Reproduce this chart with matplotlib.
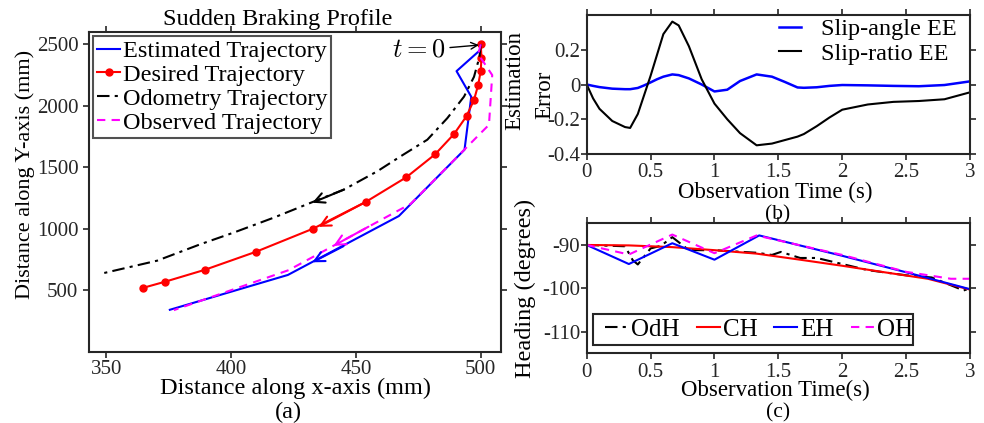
import numpy as np
import matplotlib
matplotlib.use("Agg")
import matplotlib.pyplot as plt
from matplotlib.patches import Rectangle

plt.rcParams['font.family'] = ['Liberation Serif', 'DejaVu Serif']
plt.rcParams['mathtext.fontset'] = 'cm'
plt.rcParams['axes.unicode_minus'] = False

# ---- (a) trajectories (mm) ----
desired_x = [500, 500.3, 500, 499, 497.3, 494.3, 489.3, 481.7, 470.2, 453.9, 432.9, 410, 389.3, 373.3, 364.8]
desired_y = [2500, 2392, 2285, 2172, 2048, 1916, 1771, 1606, 1420, 1219, 1003, 815, 667, 570, 522]

odom_x = [500, 499.5, 497.3, 493.3, 486.6, 478.6, 467.9, 458.6, 445.2, 431.8, 417.1, 401.1, 387.7, 370.3, 347.6]
odom_y = [2500, 2398, 2236, 2075, 1900, 1725, 1590, 1469, 1320, 1212, 1092, 971, 876, 742, 635]

est_x = [500, 499.7, 490.3, 496.2, 493.5, 467.2, 422.7, 375.4]
est_y = [2500, 2452, 2282, 2074, 1644, 1105, 626, 343]

obs_x = [500, 499, 504.6, 503.3, 500, 472, 423, 390, 377]
obs_y = [2500, 2420, 2250, 1846, 1779, 1205, 665, 432, 340]

# direction arrows: tip and a point behind it on the same path
arrow_tips = {'k': (432.5, 1213), 'r': (435, 1017), 'm': (441, 863), 'b': (432.5, 729)}
arrow_tails = {'k': (445.2, 1320), 'r': (453.9, 1219), 'm': (455, 1018), 'b': (445, 860)}

# ---- (b) estimation error ----
t_b = [0, 0.05, 0.1, 0.2, 0.3, 0.34, 0.4, 0.45, 0.5, 0.55, 0.6, 0.67, 0.72, 0.8, 0.9,
       1.0, 1.1, 1.2, 1.33, 1.45, 1.55, 1.65, 1.7, 1.8, 1.9, 2.0, 2.2, 2.4, 2.6, 2.8, 3.0]
slip_angle = [0, -0.008, -0.015, -0.024, -0.027, -0.027, -0.02, -0.005, 0.012, 0.03, 0.045, 0.058, 0.054, 0.035, 0.0,
              -0.04, -0.03, 0.02, 0.058, 0.045, 0.015, -0.017, -0.019, -0.016, -0.008, -0.003, -0.005, -0.008, -0.01, -0.003, 0.018]
slip_ratio = [0, -0.08, -0.14, -0.21, -0.245, -0.25, -0.17, -0.06, 0.05, 0.17, 0.29, 0.362, 0.34, 0.22, 0.03,
              -0.11, -0.2, -0.28, -0.35, -0.34, -0.32, -0.3, -0.285, -0.24, -0.19, -0.145, -0.115, -0.1, -0.095, -0.085, -0.045]

# ---- (c) heading (degrees) ----
t_ch = [0, 0.33, 0.67, 1.0, 1.33, 1.67, 2.0, 2.33, 2.67, 3.0]
ch = [-90, -90.1, -90.5, -91.2, -92, -93.4, -94.8, -96.3, -97.8, -100.3]

t_eh = [0, 0.33, 0.67, 1.0, 1.35, 2.0, 2.5, 3.0]
eh = [-90, -94.4, -89.6, -93.4, -87.8, -92.5, -96.3, -100.2]

t_oh = [0, 0.33, 0.67, 1.0, 1.33, 2.0, 2.5, 2.85, 3.0]
oh = [-90, -92.2, -87.6, -91.9, -87.8, -92.3, -96.2, -97.8, -97.8]

t_odh = [0, 0.3, 0.36, 0.4, 0.5, 0.58, 0.67, 0.8, 1.0, 1.33, 1.45, 1.52, 1.67, 1.8, 2.0, 2.2, 2.5, 2.7, 2.95, 3.0]
odh = [-90, -90.3, -93.5, -94.5, -90.8, -90.2, -88.2, -91.2, -91.2, -91.8, -92.3, -91.6, -93.0, -93.0, -94.4, -95.8, -97.0, -97.5, -100.5, -100.0]

time_ticks = [0, 0.5, 1, 1.5, 2, 2.5, 3]
time_labels = ['0', '0.5', '1', '1.5', '2', '2.5', '3']

axc = '#262626'
mag = '#ff00ff'
lw = 1.5
W, H = 984, 423


def style(ax, xpad, ypad):
    for s in ax.spines.values():
        s.set_color(axc)
        s.set_linewidth(1.5)
    ax.tick_params(direction='out', length=4.2, width=1.2, colors=axc, labelsize=15,
                   top=True, right=True)
    ax.tick_params(axis='x', pad=xpad)
    ax.tick_params(axis='y', pad=ypad)


def ftext(px, py, s, **kw):
    # label placed by pixel position in the figure
    fig.text(px / W, 1 - py / H, s, ha='center', va='center', **kw)


fig = plt.figure(figsize=(W / 100, H / 100), dpi=100)

# (a)
ax1 = fig.add_axes([89 / W, 1 - 352 / H, 411.7 / W, 320 / H])
ax1.plot(est_x, est_y, color='b', lw=lw, label='Estimated Trajectory')
ax1.plot(desired_x, desired_y, color='r', lw=lw, marker='o', markersize=5, label='Desired Trajectory')
ax1.plot(odom_x, odom_y, color='k', lw=lw, ls=(0, (6, 2.5, 1.5, 2.5)), label='Odometry Trajectory')
ax1.plot(obs_x, obs_y, color=mag, lw=lw, ls=(0, (4, 3)), label='Observed Trajectory')
cmap = {'k': 'k', 'r': 'r', 'm': mag, 'b': 'b'}
for key, tip in arrow_tips.items():
    ax1.annotate('', xy=tip, xytext=arrow_tails[key],
                 arrowprops=dict(arrowstyle='->', color=cmap[key], lw=lw,
                                 mutation_scale=18, shrinkA=0, shrinkB=0))
ax1.annotate('$t=0$', xy=(499.3, 2494), xytext=(486, 2452), fontsize=19, ha='right', va='center',
             arrowprops=dict(arrowstyle='->', color='k', lw=1.0, mutation_scale=12, shrinkA=1, shrinkB=0))
ax1.set_xlim(343, 508)
ax1.set_ylim(0, 2600)
ax1.set_xticks([350, 400, 450, 500])
ax1.set_yticks([500, 1000, 1500, 2000, 2500])
style(ax1, 1.5, 3.5)
leg1 = ax1.legend(loc='upper left', fontsize=17.5, handlelength=0.95, handletextpad=0.12,
                  borderpad=0.15, labelspacing=0.08, borderaxespad=0.18, fancybox=False)
leg1.get_frame().set_edgecolor(axc)
leg1.get_frame().set_linewidth(1.5)

# (b)
ax2 = fig.add_axes([586.7 / W, 1 - 154 / H, 383.3 / W, 139 / H])
ax2.plot(t_b, slip_angle, color='b', lw=lw + 0.3, label='Slip-angle EE')
ax2.plot(t_b, slip_ratio, color='k', lw=lw, label='Slip-ratio EE')
ax2.set_xlim(0, 3)
ax2.set_ylim(-0.4, 0.4)
ax2.set_yticks([-0.4, -0.2, 0, 0.2])
ax2.set_yticklabels(['-0.4', '-0.2', '0', '0.2'])
ax2.set_xticks(time_ticks)
ax2.set_xticklabels(time_labels)
style(ax2, 2.5, 0.5)
ax2.legend(loc='upper right', bbox_to_anchor=((956.7 - 586.7) / 383.3, 0.975), fontsize=17.5,
           frameon=False, handlelength=0.9, handletextpad=0.82, labelspacing=0.1,
           borderpad=0, borderaxespad=0)

# (c)
ax3 = fig.add_axes([586.7 / W, 1 - 353.3 / H, 383.3 / W, 130 / H])
ax3.plot(t_odh, odh, color='k', lw=lw, ls=(0, (6, 2.5, 1.5, 2.5)), label='OdH')
ax3.plot(t_ch, ch, color='r', lw=lw, label='CH')
ax3.plot(t_eh, eh, color='b', lw=lw, label='EH')
ax3.plot(t_oh, oh, color=mag, lw=lw, ls=(0, (4, 3)), label='OH')
ax3.set_xlim(0, 3)
ax3.set_ylim(-115, -85)
ax3.set_yticks([-110, -100, -90])
ax3.set_xticks(time_ticks)
ax3.set_xticklabels(time_labels)
style(ax3, 2.5, 0.5)
ax3.legend(loc='center left', bbox_to_anchor=((605 - 586.7) / 383.3, (353.3 - 329.5) / 130), ncol=4,
           fontsize=18, frameon=False, handlelength=0.92, handletextpad=0.12, columnspacing=0.68,
           borderpad=0, borderaxespad=0)
ax3.add_patch(Rectangle((6 / 383.3, 8.3 / 130), 320 / 383.3, 31 / 130, transform=ax3.transAxes,
                        fill=False, edgecolor=axc, lw=1.5, zorder=5))

# axis labels and captions
ftext(278, 20, 'Sudden Braking Profile', fontsize=17.5)
ftext(295, 388, 'Distance along x-axis (mm)', fontsize=17.5)
ftext(288, 412, '(a)', fontsize=17.5)
ftext(25, 174, 'Distance along Y-axis (mm)', fontsize=16, rotation=90)
ftext(515, 80, 'Estimation', fontsize=16.5, rotation=90)
ftext(545, 95, 'Error', fontsize=16.5, rotation=90)
ftext(775, 192.5, 'Observation Time (s)', fontsize=16.5)
ftext(778, 215, '(b)', fontsize=15.5)
ftext(775, 390.5, 'Observation Time(s)', fontsize=16.5)
ftext(778, 413, '(c)', fontsize=15.5)
ftext(525, 288, 'Heading (degrees)', fontsize=17.5, rotation=90)

fig.savefig('out.png', dpi=100)
